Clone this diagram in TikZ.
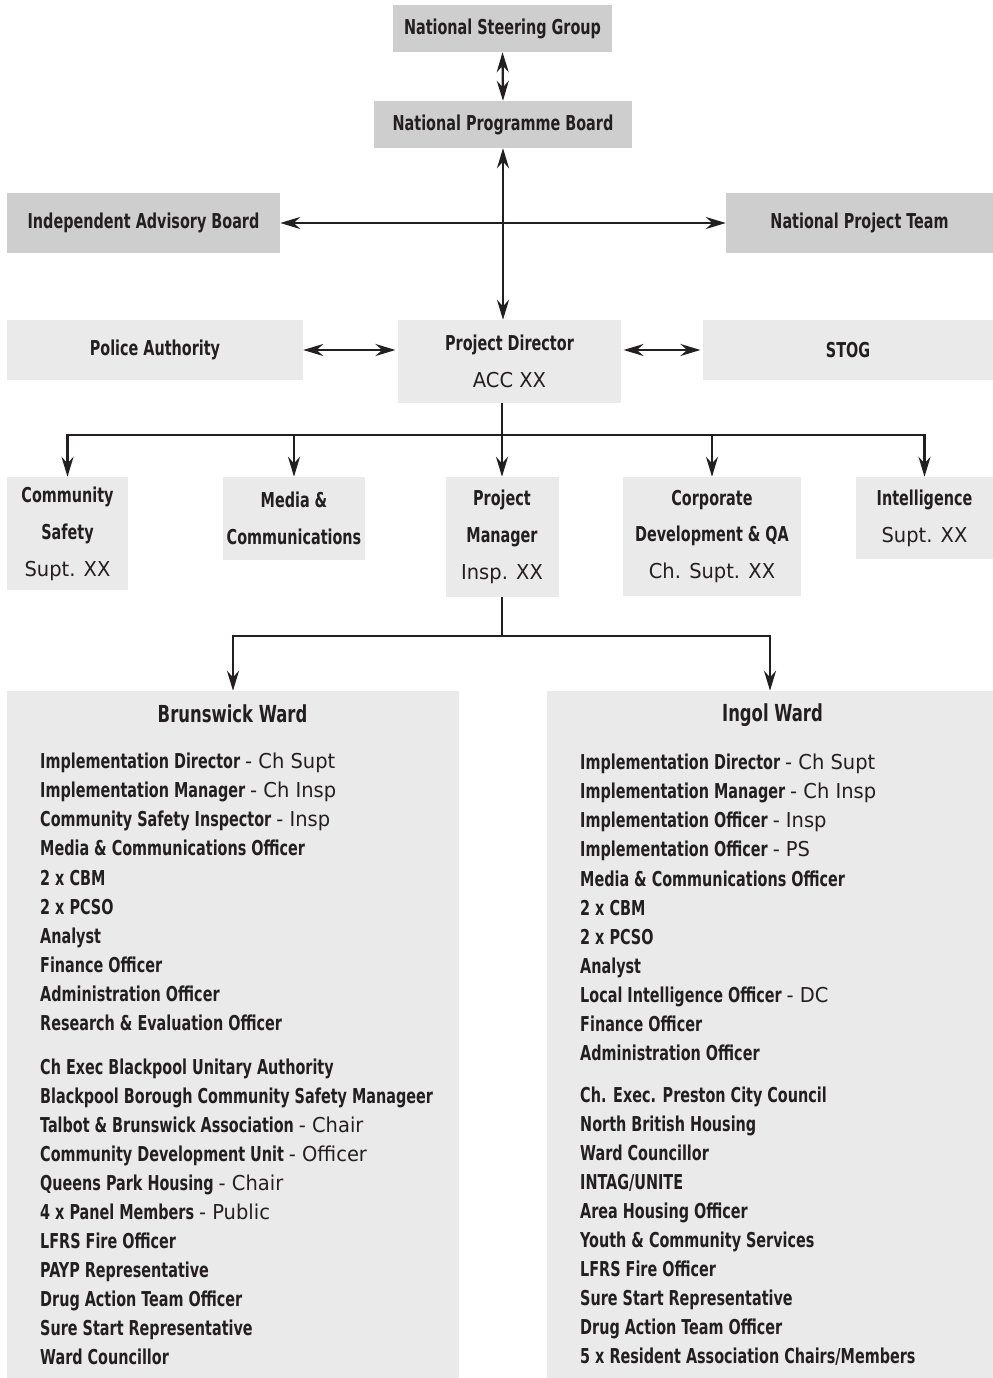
\documentclass[tikz,border=0pt]{standalone}
\usepackage{fontspec}
\setmainfont{DejaVu Sans Condensed}[FakeStretch=0.78]
\newfontfamily\lightfont{DejaVu Sans}[FakeStretch=0.95]
\usetikzlibrary{arrows.meta}
\definecolor{boardgray}{RGB}{205,206,205}
\definecolor{unitgray}{RGB}{233,234,233}
\definecolor{inkblack}{RGB}{35,31,32}
\newcommand{\rankof}[1]{{\mdseries\lightfont #1}}

\begin{document}
\begin{tikzpicture}[
							x=0.03cm, y=-0.03cm,
							>={Stealth[length=0.6cm, width=0.36cm, inset=0.2cm]},
							boxLevel1/.style={rectangle, fill=boardgray, inner sep=0pt, text=inkblack, align=center, font=\bfseries\fontsize{17.5}{31.5}\selectfont},
							boxLevel2/.style={rectangle, fill=unitgray, inner sep=0pt, text=inkblack, align=center, font=\bfseries\fontsize{17.5}{31.5}\selectfont},
							wardTitle/.style={inner sep=0pt, text=inkblack, font=\bfseries\fontsize{20}{24}\selectfont},
							wardList/.style={anchor=north west, inner sep=0pt, text=inkblack, align=left, font=\bfseries\fontsize{17.5}{24.8}\selectfont},
							link/.style={draw=inkblack, line width=2pt}
						]
						
						\useasboundingbox (0,0) rectangle (993,1378);
						
						\node[boxLevel1, minimum width=6.57cm, minimum height=1.41cm] (nsg) at (502.5, 28.5) {National Steering Group};
						\node[boxLevel1, minimum width=7.74cm, minimum height=1.41cm] (npb) at (503.0, 124.5) {National Programme Board};
						\node[boxLevel1, minimum width=8.19cm, minimum height=1.80cm] (iab) at (143.5, 223.0) {Independent Advisory Board};
						\node[boxLevel1, minimum width=8.01cm, minimum height=1.80cm] (npt) at (859.5, 223.0) {National Project Team};
						
						\node[boxLevel2, minimum width=8.88cm, minimum height=1.80cm] (pa) at (155.0, 350.0) {Police Authority};
						\node[boxLevel2, minimum width=6.69cm, minimum height=2.49cm] (pd) at (509.5, 361.5) {Project Director\\\rankof{ACC XX}};
						\node[boxLevel2, minimum width=8.70cm, minimum height=1.80cm] (stog) at (848.0, 350.0) {STOG};
						
						\node[boxLevel2, minimum width=3.63cm, minimum height=3.39cm] (cs) at (67.5, 533.5) {Community\\Safety\\\rankof{Supt. XX}};
						\node[boxLevel2, minimum width=4.26cm, minimum height=2.49cm] (mc) at (294.0, 518.5) {Media \&\\Communications};
						\node[boxLevel2, minimum width=3.39cm, minimum height=3.60cm] (pm) at (502.0, 537.0) {Project\\Manager\\\rankof{Insp. XX}};
						\node[boxLevel2, minimum width=5.34cm, minimum height=3.57cm] (cd) at (712.0, 536.5) {Corporate\\Development \& QA\\\rankof{Ch. Supt. XX}};
						\node[boxLevel2, minimum width=4.11cm, minimum height=2.46cm] (intel) at (924.5, 518.0) {Intelligence\\\rankof{Supt. XX}};
						
						\node[boxLevel2, minimum width=13.56cm, minimum height=20.61cm] (bw) at (233.0, 1034.5) {};
						\node[boxLevel2, minimum width=13.38cm, minimum height=20.61cm] (iw) at (770.0, 1034.5) {};
						
						\node[wardTitle] (bwtitle) at (232.5, 714) {Brunswick Ward};
						\node[wardTitle] (iwtitle) at (772.5, 715) {Ingol Ward};
						
						\node[wardList] (bwlist) at (40, 753) {Implementation Director \rankof{- Ch Supt}\\
							Implementation Manager \rankof{- Ch Insp}\\
							Community Safety Inspector \rankof{- Insp}\\
							Media \& Communications Officer\\
							2 x CBM\\
							2 x PCSO\\
							Analyst\\
							Finance Officer\\
							Administration Officer\\
							Research \& Evaluation Officer\\[12.5pt]
							Ch Exec Blackpool Unitary Authority\\
							Blackpool Borough Community Safety Manageer\\
							Talbot \& Brunswick Association \rankof{- Chair}\\
							Community Development Unit \rankof{- Officer}\\
							Queens Park Housing \rankof{- Chair}\\
							4 x Panel Members \rankof{- Public}\\
							LFRS Fire Officer\\
							PAYP Representative\\
							Drug Action Team Officer\\
							Sure Start Representative\\
							Ward Councillor};
						
						\node[wardList] (iwlist) at (580, 754) {Implementation Director \rankof{- Ch Supt}\\
							Implementation Manager \rankof{- Ch Insp}\\
							Implementation Officer \rankof{- Insp}\\
							Implementation Officer \rankof{- PS}\\
							Media \& Communications Officer\\
							2 x CBM\\
							2 x PCSO\\
							Analyst\\
							Local Intelligence Officer \rankof{- DC}\\
							Finance Officer\\
							Administration Officer\\[11pt]
							Ch. Exec. Preston City Council\\
							North British Housing\\
							Ward Councillor\\
							INTAG/UNITE\\
							Area Housing Officer\\
							Youth \& Community Services\\
							LFRS Fire Officer\\
							Sure Start Representative\\
							Drug Action Team Officer\\
							5 x Resident Association Chairs/Members};
						
						\coordinate (hub) at (502, 435);
						\coordinate (split) at (502, 636);
						
						\draw [link, <->] (nsg.south) to (npb.north);
						\draw [link, <->] (npb.south) to (npb.south |- pd.north);
						\draw [link, <->] (iab.east) to (npt.west);
						\draw [link, <->, shorten >=2pt] (pa.east) to (pa.east -| pd.west);
						\draw [link, <->, shorten <=2pt, shorten >=2pt] (stog.west) to (stog.west -| pd.east);
						\draw [link, ->] (pd.south -| pm.north) to (pm.north);
						\foreach \unit in {cs, mc, cd, intel}
							\draw [link, ->] (hub) -| (\unit.north);
						\draw [link] (pm.south) to (split);
						\draw [link, ->] (split) -| (bw.north);
						\draw [link, ->] (split) -| (iw.north);
					\end{tikzpicture}
\end{document}
